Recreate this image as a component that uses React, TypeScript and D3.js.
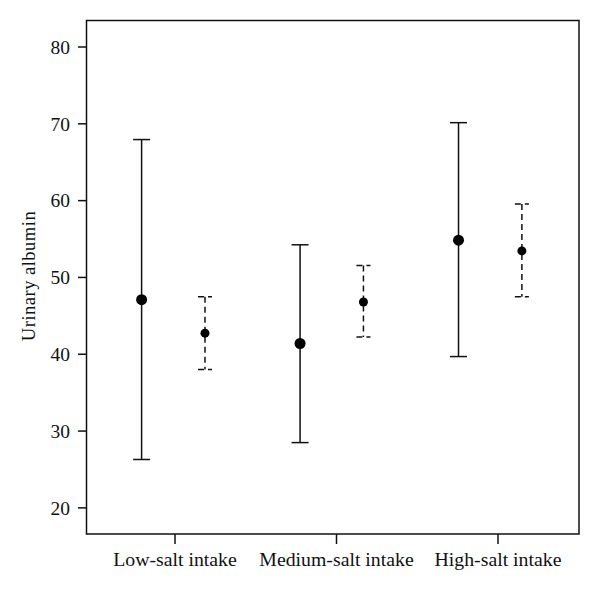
import React from "react";
import * as d3 from "d3";

const categories = ["Low-salt intake", "Medium-salt intake", "High-salt intake"];
const solidMean = [47.1, 41.4, 54.85];
const solidLow = [26.3, 28.5, 39.7];
const solidHigh = [67.95, 54.25, 70.15];
const dashedMean = [42.75, 46.8, 53.45];
const dashedLow = [38.0, 42.25, 47.5];
const dashedHigh = [47.5, 51.55, 59.55];
const yTicks = [20, 30, 40, 50, 60, 70, 80];
const yLabel = "Urinary albumin";

const W = 600;
const H = 593;
const left = 86.5;
const right = 579;
const top = 20.5;
const bottom = 534;

export default function App() {
  const y = d3.scaleLinear().domain([16.6, 83.45]).range([bottom, top]);
  const tickX = d3.scaleLinear().domain([1, 3]).range([175, 498]);
  const markX = d3.scaleLinear().domain([1, 3]).range([173.3, 490.2]);
  const off = 0.2;
  const font = "'Liberation Serif', 'Times New Roman', serif";
  const ink = "#111";

  const series = [
    { mean: solidMean, lo: solidLow, hi: solidHigh, dx: -off, cap: 8.5, r: 5.5, dash: undefined as string | undefined },
    { mean: dashedMean, lo: dashedLow, hi: dashedHigh, dx: off, cap: 7, r: 4.5, dash: "6,4" },
  ];

  return (
    <svg width={W} height={H} style={{ position: "absolute", left: 0, top: 0, background: "#fff" }}>
      <rect x={0} y={0} width={W} height={H} fill="#fff" />
      <rect x={left} y={top} width={right - left} height={bottom - top} fill="none" stroke={ink} strokeWidth={1.5} />
      {yTicks.map((t) => (
        <g key={t}>
          <line x1={left - 8.5} x2={left} y1={y(t)} y2={y(t)} stroke={ink} strokeWidth={1.5} />
          <text x={70} y={y(t)} dy="0.35em" textAnchor="end" fontFamily={font} fontSize={19.5} fill={ink}>
            {t}
          </text>
        </g>
      ))}
      {categories.map((c, i) => (
        <g key={c}>
          <line x1={tickX(i + 1)} x2={tickX(i + 1)} y1={bottom} y2={bottom + 10} stroke={ink} strokeWidth={1.5} />
          <text x={tickX(i + 1)} y={566} textAnchor="middle" fontFamily={font} fontSize={19.8} fill={ink}>
            {c}
          </text>
        </g>
      ))}
      <text
        transform={`translate(35,276) rotate(-90)`}
        textAnchor="middle"
        fontFamily={font}
        fontSize={18.5}
        letterSpacing={0.5}
        fill={ink}
      >
        {yLabel}
      </text>
      {series.map((s, si) =>
        categories.map((c, i) => {
          const cx = markX(i + 1 + s.dx);
          return (
            <g key={`${si}-${i}`}>
              <line x1={cx} x2={cx} y1={y(s.hi[i])} y2={y(s.lo[i])} stroke={ink} strokeWidth={1.5} strokeDasharray={s.dash} />
              <line x1={cx - s.cap} x2={cx + s.cap} y1={y(s.hi[i])} y2={y(s.hi[i])} stroke={ink} strokeWidth={1.5} strokeDasharray={s.dash} />
              <line x1={cx - s.cap} x2={cx + s.cap} y1={y(s.lo[i])} y2={y(s.lo[i])} stroke={ink} strokeWidth={1.5} strokeDasharray={s.dash} />
              <circle cx={cx} cy={y(s.mean[i])} r={s.r} fill="#000" />
            </g>
          );
        })
      )}
    </svg>
  );
}
